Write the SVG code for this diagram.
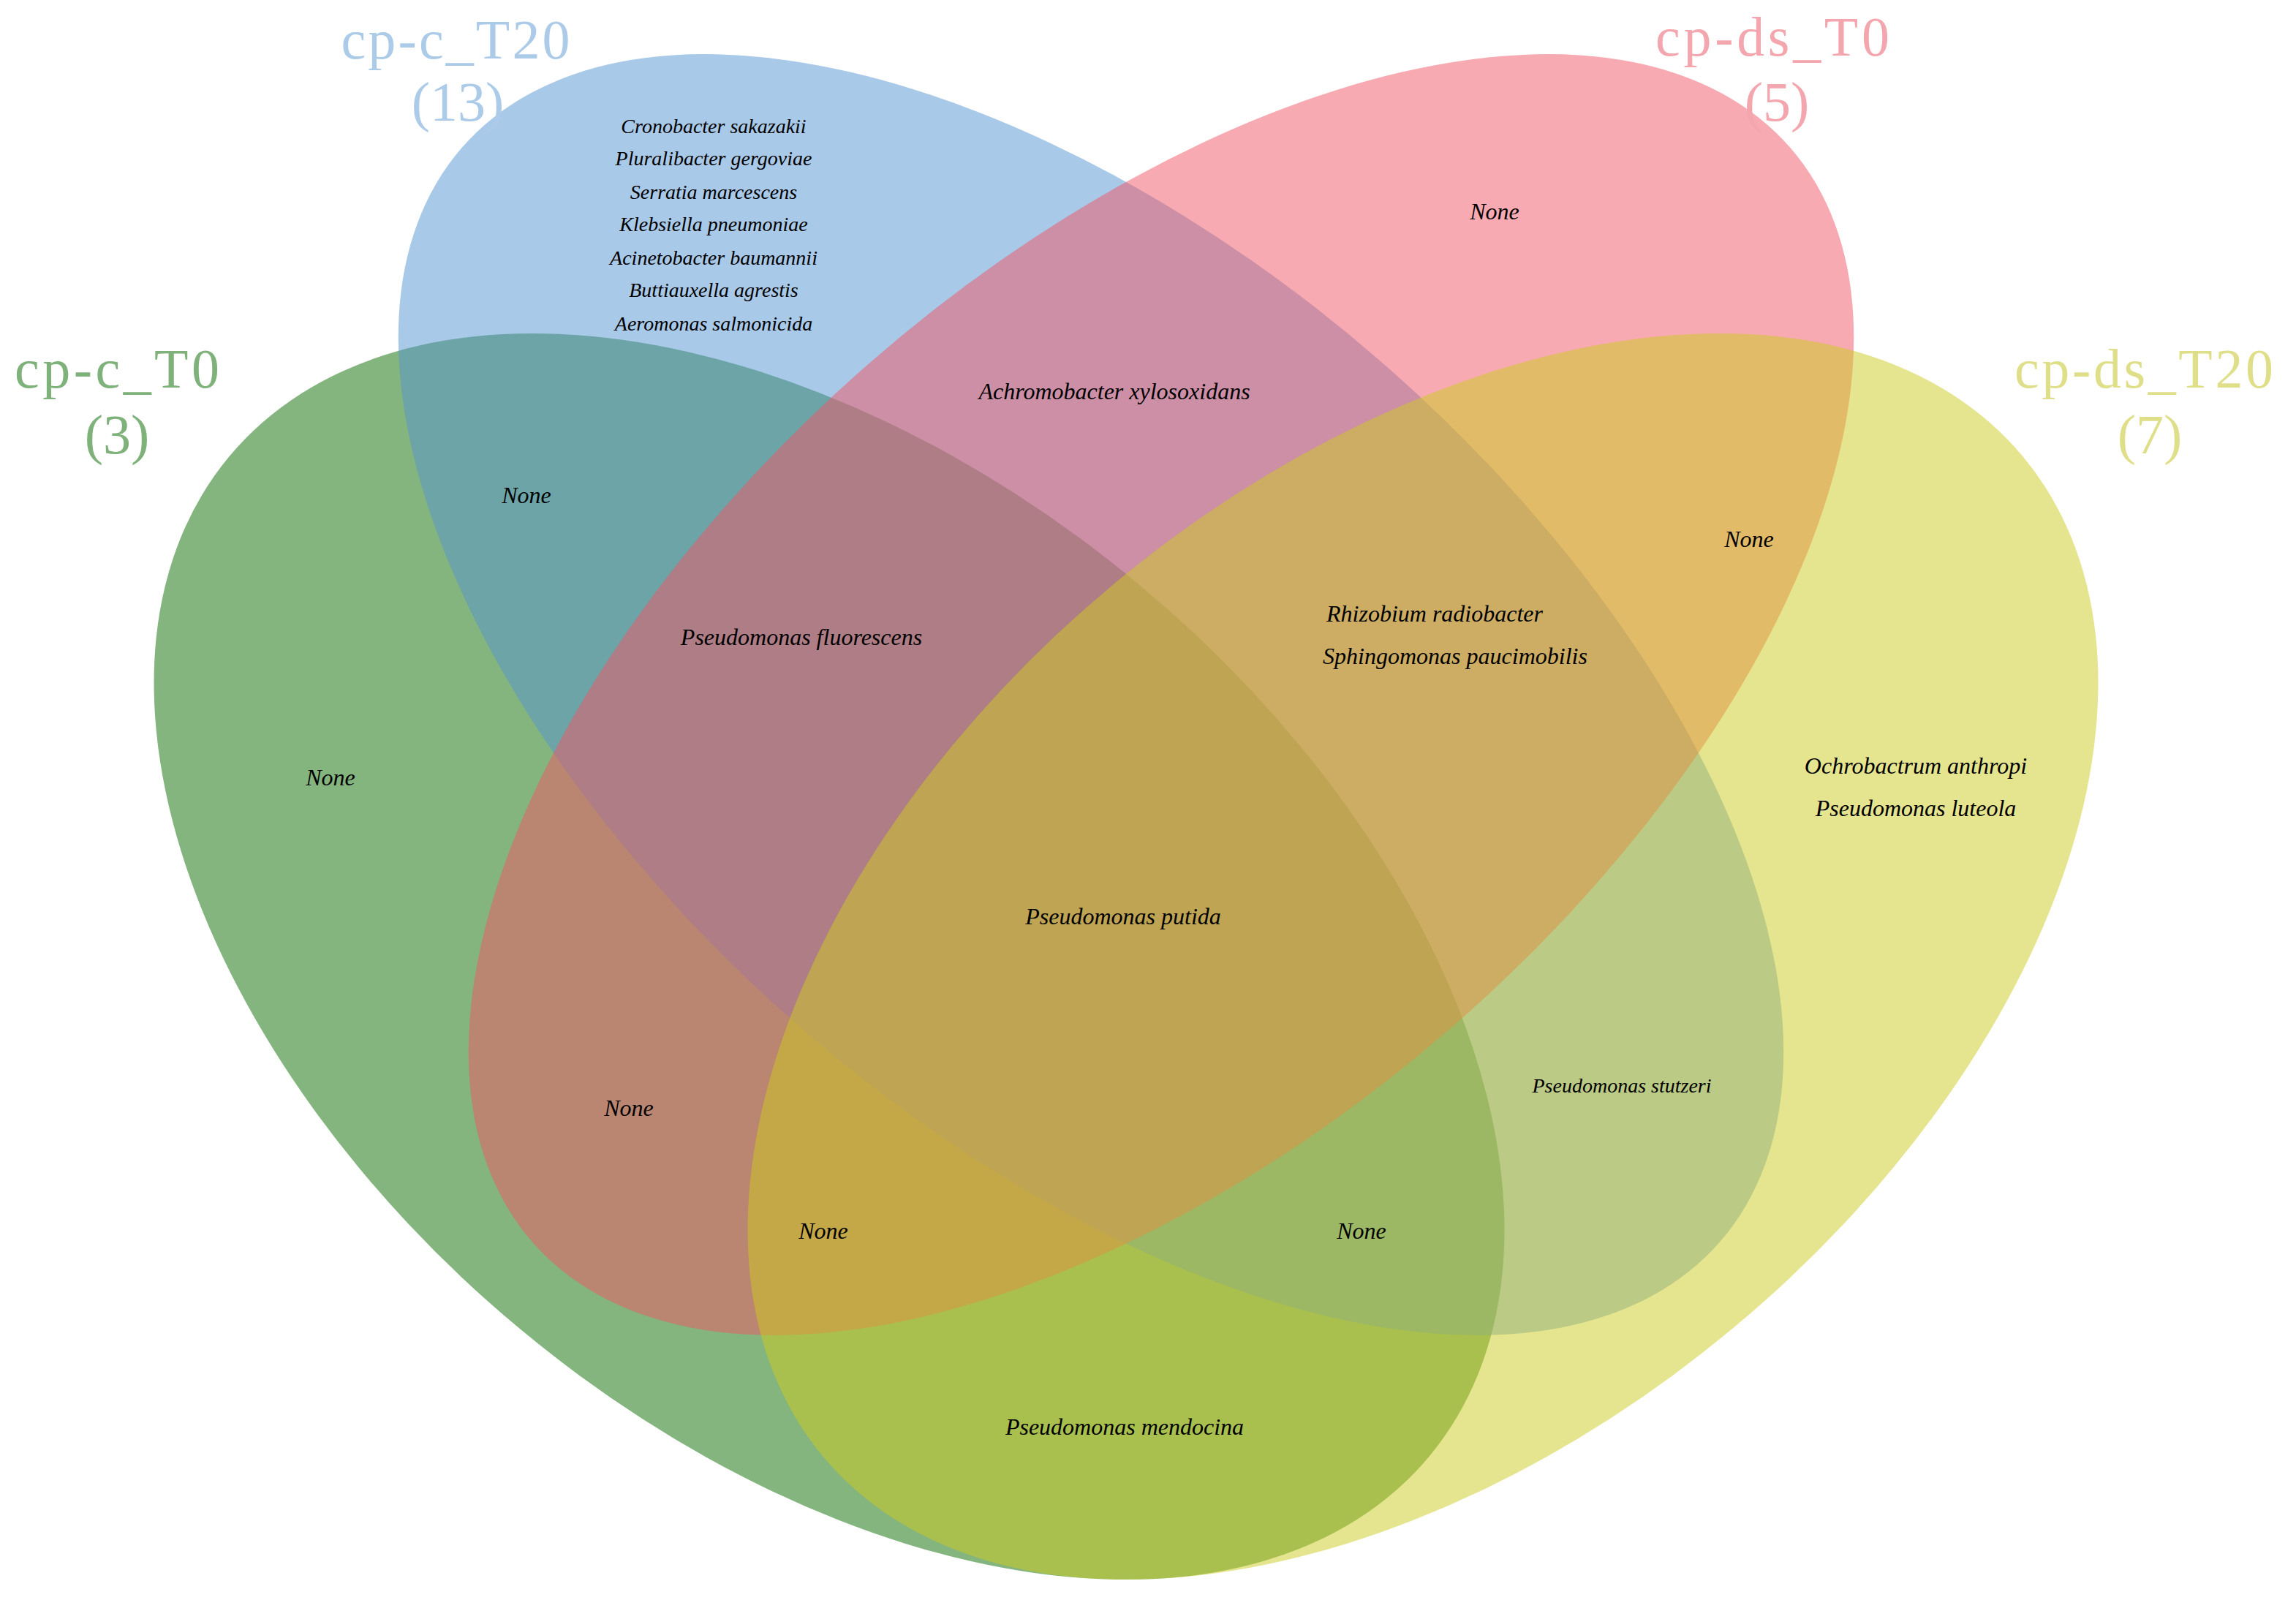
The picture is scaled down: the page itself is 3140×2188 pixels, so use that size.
<svg xmlns="http://www.w3.org/2000/svg" width="3140" height="2188" viewBox="0 0 3140 2188">
<style>
.s{font-family:"Liberation Serif",serif;font-style:italic;font-size:32px;fill:#000;text-anchor:middle}
.t{font-size:28px}
.lab{font-family:"Liberation Serif",serif;font-size:76px;text-anchor:middle}
</style>
<rect width="3140" height="2188" fill="#fff"/>
<g id="sets" fill-opacity="0.5">
<g id="cp-c_T0"><ellipse cx="1134" cy="1308" rx="1068" ry="662" transform="rotate(39.8 1134 1308)" fill="#096b00"/></g>
<g id="cp-c_T20"><ellipse cx="1492" cy="950" rx="1140" ry="604" transform="rotate(41 1492 950)" fill="#5393d1"/></g>
<g id="cp-ds_T0"><ellipse cx="1588" cy="950" rx="1140" ry="604" transform="rotate(-41 1588 950)" fill="#ef5563"/></g>
<g id="cp-ds_T20"><ellipse cx="1946" cy="1308" rx="1068" ry="662" transform="rotate(-39.8 1946 1308)" fill="#cdcb1f"/></g>
</g>
<g id="labels">
<text class="lab" x="623" y="80" fill="#abcbe9" textLength="313" lengthAdjust="spacing">cp-c_T20</text>
<text class="lab" x="626" y="165" fill="#abcbe9">(13)</text>
<text class="lab" x="2424" y="76" fill="#f4a6ae" textLength="320" lengthAdjust="spacing">cp-ds_T0</text>
<text class="lab" x="2430" y="165" fill="#f4a6ae">(5)</text>
<text class="lab" x="160" y="530" fill="#7fb17a" textLength="280" lengthAdjust="spacing">cp-c_T0</text>
<text class="lab" x="160" y="620" fill="#7fb17a">(3)</text>
<text class="lab" x="2932" y="530" fill="#dfdf8a" textLength="354" lengthAdjust="spacing">cp-ds_T20</text>
<text class="lab" x="2940" y="620" fill="#dfdf8a">(7)</text>
</g>
<g id="regions">
<text class="s t" x="976" y="182">Cronobacter sakazakii</text>
<text class="s t" x="976" y="226">Pluralibacter gergoviae</text>
<text class="s t" x="976" y="272">Serratia marcescens</text>
<text class="s t" x="976" y="316">Klebsiella pneumoniae</text>
<text class="s t" x="976" y="362">Acinetobacter baumannii</text>
<text class="s t" x="976" y="406">Buttiauxella agrestis</text>
<text class="s t" x="976" y="452">Aeromonas salmonicida</text>
<text class="s" x="2044" y="300">None</text>
<text class="s" x="1524" y="546">Achromobacter xylosoxidans</text>
<text class="s" x="720" y="688">None</text>
<text class="s" x="2392" y="748">None</text>
<text class="s" x="1096" y="882">Pseudomonas fluorescens</text>
<text class="s" x="1962" y="850">Rhizobium radiobacter</text>
<text class="s" x="1990" y="908">Sphingomonas paucimobilis</text>
<text class="s" x="452" y="1074">None</text>
<text class="s" x="2620" y="1058">Ochrobactrum anthropi</text>
<text class="s" x="2620" y="1116">Pseudomonas luteola</text>
<text class="s" x="1536" y="1264">Pseudomonas putida</text>
<text class="s t" x="2218" y="1494">Pseudomonas stutzeri</text>
<text class="s" x="860" y="1526">None</text>
<text class="s" x="1126" y="1694">None</text>
<text class="s" x="1862" y="1694">None</text>
<text class="s" x="1538" y="1962">Pseudomonas mendocina</text>
</g>
</svg>
